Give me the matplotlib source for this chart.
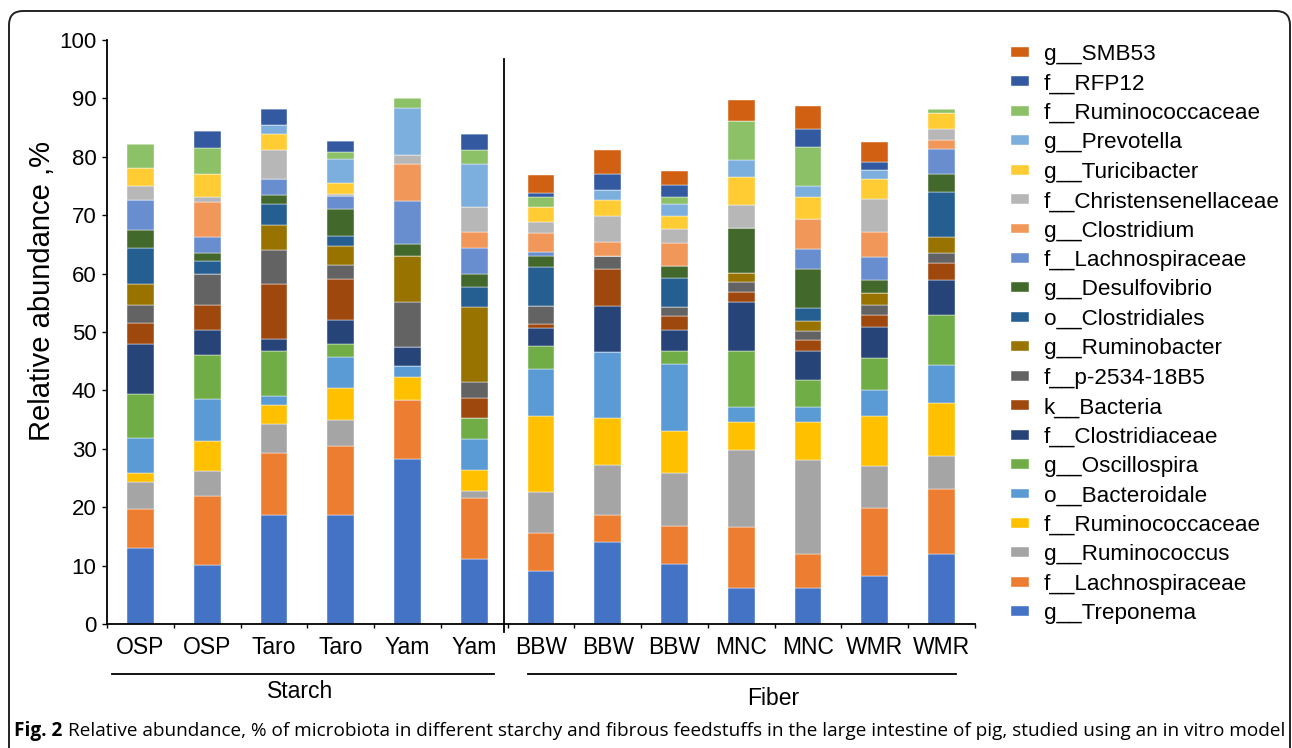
import matplotlib
matplotlib.use("Agg")
import matplotlib.pyplot as plt
import matplotlib.transforms as mtransforms
from matplotlib.patches import FancyBboxPatch
import numpy as np

W, H, DPI = 1292, 748, 100

samples = ["OSP", "OSP", "Taro", "Taro", "Yam", "Yam",
           "BBW", "BBW", "BBW", "MNC", "MNC", "WMR", "WMR"]

# relative abundance (%) per sample, bottom of the stack first
treponema = [13.0, 10.1, 18.7, 18.6, 28.3, 11.1, 9.1, 14.1, 10.3, 6.1, 6.1, 8.2, 12.0]
lachno_f = [6.7, 11.9, 10.6, 11.8, 10.0, 10.5, 6.5, 4.6, 6.5, 10.5, 5.9, 11.6, 11.2]
ruminococcus = [4.7, 4.2, 4.9, 4.6, 0.0, 1.2, 7.0, 8.5, 9.0, 13.2, 16.0, 7.2, 5.5]
rumino_f = [1.5, 5.2, 3.3, 5.4, 4.0, 3.6, 13.0, 8.0, 7.3, 4.8, 6.6, 8.6, 9.2]
bacteroidale = [6.0, 7.2, 1.6, 5.3, 1.9, 5.2, 8.0, 11.3, 11.4, 2.5, 2.5, 4.5, 6.5]
oscillospira = [7.5, 7.5, 7.6, 2.2, 0.0, 3.6, 4.0, 0.0, 2.2, 9.6, 4.6, 5.4, 8.5]
clostridiaceae = [8.5, 4.2, 2.1, 4.2, 3.3, 0.0, 3.0, 8.0, 3.6, 8.4, 5.0, 5.4, 6.0]
bacteria = [3.6, 4.4, 9.4, 7.0, 0.0, 3.5, 0.7, 6.3, 2.4, 1.7, 1.9, 2.0, 2.9]
p2534 = [3.2, 5.2, 5.9, 2.3, 7.6, 2.7, 3.2, 2.2, 1.6, 1.7, 1.5, 1.8, 1.8]
ruminobacter = [3.5, 0.0, 4.3, 3.4, 7.9, 12.9, 0.0, 0.0, 0.0, 1.6, 1.8, 2.0, 2.7]
clostridiales = [6.2, 2.3, 3.6, 1.6, 0.0, 3.4, 6.7, 0.0, 5.0, 0.0, 2.2, 0.0, 7.7]
desulfovibrio = [3.0, 1.4, 1.5, 4.6, 2.0, 2.2, 1.8, 0.0, 2.0, 7.7, 6.7, 2.2, 3.1]
lachno_f2 = [5.2, 2.6, 2.7, 2.3, 7.4, 4.4, 0.7, 0.0, 0.0, 0.0, 3.4, 3.9, 4.3]
clostridium = [0.0, 6.0, 0.0, 0.0, 6.3, 2.9, 3.3, 2.4, 4.0, 0.0, 5.1, 4.4, 1.5]
christensen = [2.4, 1.0, 4.9, 0.3, 1.6, 4.2, 1.8, 4.5, 2.3, 4.0, 0.0, 5.6, 1.9]
turicibacter = [3.0, 3.8, 2.8, 1.9, 0.0, 0.0, 2.6, 2.7, 2.2, 4.8, 3.9, 3.4, 2.7]
prevotella = [0.0, 0.0, 1.6, 4.2, 8.0, 7.4, 0.0, 1.8, 2.2, 2.8, 1.8, 1.5, 0.0]
rumino_f2 = [4.2, 4.5, 0.0, 1.1, 1.7, 2.3, 1.8, 0.0, 1.2, 6.7, 6.6, 0.0, 0.7]
rfp12 = [0.0, 2.9, 2.7, 1.9, 0.0, 2.8, 0.6, 2.6, 2.0, 0.0, 3.2, 1.4, 0.0]
smb53 = [0.0, 0.0, 0.0, 0.0, 0.0, 0.0, 3.0, 4.2, 2.3, 3.6, 3.9, 3.4, 0.0]

SERIES = [
    ("g__Treponema", "#4472C4", treponema),
    ("f__Lachnospiraceae", "#ED7D31", lachno_f),
    ("g__Ruminococcus", "#A5A5A5", ruminococcus),
    ("f__Ruminococcaceae", "#FFC000", rumino_f),
    ("o__Bacteroidale", "#5B9BD5", bacteroidale),
    ("g__Oscillospira", "#70AD47", oscillospira),
    ("f__Clostridiaceae", "#264478", clostridiaceae),
    ("k__Bacteria", "#9E480E", bacteria),
    ("f__p-2534-18B5", "#636363", p2534),
    ("g__Ruminobacter", "#997300", ruminobacter),
    ("o__Clostridiales", "#255E91", clostridiales),
    ("g__Desulfovibrio", "#43682B", desulfovibrio),
    ("f__Lachnospiraceae", "#698ED0", lachno_f2),
    ("g__Clostridium", "#F1975A", clostridium),
    ("f__Christensenellaceae", "#B7B7B7", christensen),
    ("g__Turicibacter", "#FFCD33", turicibacter),
    ("g__Prevotella", "#7CAFDD", prevotella),
    ("f__Ruminococcaceae", "#8CC168", rumino_f2),
    ("f__RFP12", "#335AA1", rfp12),
    ("g__SMB53", "#D26012", smb53),
]

SANS = ["Liberation Sans", "DejaVu Sans"]
plt.rcParams["font.family"] = SANS

fig = plt.figure(figsize=(W / DPI, H / DPI), dpi=DPI)
ax = fig.add_axes([107 / W, 1 - 624 / H, (975 - 107) / W, (624 - 40) / H])

x = np.arange(len(samples))
bottom = np.zeros(len(samples))
bars = []
for label, color, vals in SERIES:
    vals = np.asarray(vals)
    b = ax.bar(x, vals, width=0.4, bottom=bottom, color=color,
               edgecolor="white", linewidth=0.3, label=label)
    bars.append(b)
    bottom += vals

ax.set_xlim(-0.5, len(samples) - 0.5)
ax.set_ylim(0, 100)
ax.set_yticks(np.arange(0, 101, 10))
ax.tick_params(axis="y", direction="out", length=3.5, width=1.0,
               labelsize=16, pad=4, colors="black")

ax.set_xticks(x)
ax.set_xticklabels(samples, fontsize=16.5)
ax.tick_params(axis="x", which="major", length=0, pad=9)
ax.set_xticks(np.arange(-0.5, len(samples), 1.0), minor=True)
ax.tick_params(axis="x", which="minor", direction="out", length=3, width=1.0)

for side in ("top", "right"):
    ax.spines[side].set_visible(False)
for side in ("left", "bottom"):
    ax.spines[side].set_linewidth(1.3)
    ax.spines[side].set_color("black")

# divider between starch and fiber feedstuffs
ax.plot([5.45, 5.45], [-1.4, 96.7], color="black", lw=1.3, clip_on=False)

trans = mtransforms.blended_transform_factory(ax.transData, ax.transAxes)
ax.plot([-0.42, 5.29], [-0.086, -0.086], color="black", lw=1.3,
        transform=trans, clip_on=False)
ax.plot([5.80, 12.22], [-0.086, -0.086], color="black", lw=1.3,
        transform=trans, clip_on=False)
ax.text(2.39, -0.116, "Starch", transform=trans, ha="center", va="center", fontsize=16.5)
ax.text(9.47, -0.127, "Fiber", transform=trans, ha="center", va="center", fontsize=16.5)

fig.text(42 / W, 1 - 291 / H, "Relative abundance ,%", rotation=90,
         ha="center", va="center", fontsize=21)

leg = ax.legend(bars[::-1], [s[0] for s in SERIES][::-1],
                loc="upper left", bbox_to_anchor=(1011 / W, 1 - 44 / H),
                bbox_transform=fig.transFigure, frameon=False, fontsize=16.2,
                handlelength=0.8, handleheight=0.3, handletextpad=0.65,
                labelspacing=0.375, borderpad=0, borderaxespad=0)

# rounded frame around the figure, open at the bottom
frame = FancyBboxPatch((9, -30), 1281, 737 + 30,
                       boxstyle="round,pad=0,rounding_size=14",
                       transform=mtransforms.IdentityTransform(),
                       facecolor="none", edgecolor="#222222", lw=1.4)
fig.add_artist(frame)

# caption
cap_y = 1 - 736 / H
cap_font = ["Open Sans", "DejaVu Sans"]
bold = fig.text(14 / W, cap_y, "Fig. 2", fontsize=13.7, fontweight="bold",
                family=cap_font, va="baseline")
fig.canvas.draw()
bb = bold.get_window_extent()
fig.text((bb.x1 + 6) / W, cap_y,
         "Relative abundance, % of microbiota in different starchy and fibrous "
         "feedstuffs in the large intestine of pig, studied using an in vitro model",
         fontsize=13.7, family=cap_font, va="baseline")

fig.savefig("out.png", dpi=DPI)
